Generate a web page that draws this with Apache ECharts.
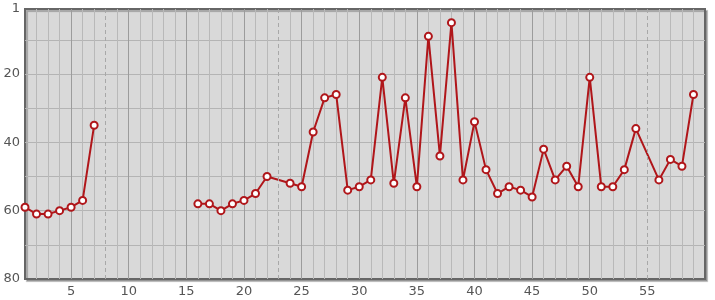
<!DOCTYPE html>
<html>
<head>
<meta charset="utf-8">
<script src="https://cdn.jsdelivr.net/npm/echarts@6/dist/echarts.min.js"></script>
<style>
html,body{margin:0;padding:0;background:#fff;}
#c{width:715px;height:300px;}
</style>
</head>
<body>
<div id="c"></div>
<script>
// Data
var xValues = [1,2,3,4,5,6,7,8,16,17,18,19,20,21,22,24,25,26,27,28,29,30,31,32,33,34,35,36,37,38,39,40,41,42,43,44,45,46,47,48,49,50,51,52,53,54,56,57,58,59];
var yValues = [59,61,61,60,59,57,35,null,58,58,60,58,57,55,50,52,53,37,27,26,54,53,51,21,52,27,53,9,44,5,51,34,48,55,53,54,56,42,51,47,53,21,53,53,48,36,51,45,47,26];
var xTickLabels = [5,10,15,20,25,30,35,40,45,50,55];
var yTickLabels = [1,20,40,60,80];
var dashedMarks = [8,23,55];

var xMin = 1, xMax = 60, yMin = 1, yMax = 80;

var seriesData = xValues.map(function(x, i){
  return [x, yValues[i] === null ? '-' : yValues[i]];
});

var xSplitColors = [];
for (var v = xMin; v <= xMax; v++) {
  if (v === xMin || v === xMax || dashedMarks.indexOf(v) >= 0) xSplitColors.push('rgba(0,0,0,0)');
  else if (v % 5 === 0) xSplitColors.push('#9c9c9c');
  else xSplitColors.push('#b9b9b9');
}
var ySplitColors = [];
for (var w = yMin; w <= yMax; w++) {
  if (w === yMin || w === yMax) ySplitColors.push('rgba(0,0,0,0)');
  else if (w % 10 === 0) ySplitColors.push('#b4b4b4');
  else ySplitColors.push('rgba(0,0,0,0)');
}

var chart = echarts.init(document.getElementById('c'), null, {renderer:'canvas'});
chart.setOption({
  animation: false,
  backgroundColor: '#ffffff',
  grid: {
    left: 25, right: 10, top: 9, bottom: 21,
    show: true,
    backgroundColor: '#d9d9d9',
    borderColor: '#666666',
    borderWidth: 2,
    shadowColor: 'rgba(0,0,0,0.25)',
    shadowOffsetX: 2,
    shadowOffsetY: 2,
    shadowBlur: 1
  },
  xAxis: {
    type: 'value',
    min: xMin, max: xMax, interval: 1,
    axisLine: {show: false},
    axisTick: {show: false},
    splitLine: {show: true, lineStyle: {color: xSplitColors, width: 1}},
    axisLabel: {
      margin: 6,
      color: '#555555',
      fontFamily: 'DejaVu Sans',
      fontSize: 13,
      formatter: function(v){ return xTickLabels.indexOf(v) >= 0 ? String(v) : ''; }
    }
  },
  yAxis: {
    type: 'value',
    inverse: true,
    min: yMin, max: yMax, interval: 1,
    axisLine: {show: false},
    axisTick: {show: false},
    splitLine: {show: true, lineStyle: {color: ySplitColors, width: 1}},
    axisLabel: {
      margin: 5,
      color: '#555555',
      fontFamily: 'DejaVu Sans',
      fontSize: 13,
      formatter: function(v){ return yTickLabels.indexOf(v) >= 0 ? String(v) : ''; }
    }
  },
  series: [{
    type: 'line',
    data: seriesData,
    connectNulls: false,
    symbol: 'circle',
    symbolSize: 7,
    itemStyle: {color: '#ffffff', borderColor: '#b0161a', borderWidth: 2},
    lineStyle: {color: '#b0161a', width: 2},
    markLine: {
      silent: true,
      symbol: 'none',
      label: {show: false},
      lineStyle: {color: '#a8a8a8', type: [4,3], width: 1},
      data: dashedMarks.map(function(m){ return {xAxis: m}; })
    }
  }]
});
</script>
</body>
</html>
